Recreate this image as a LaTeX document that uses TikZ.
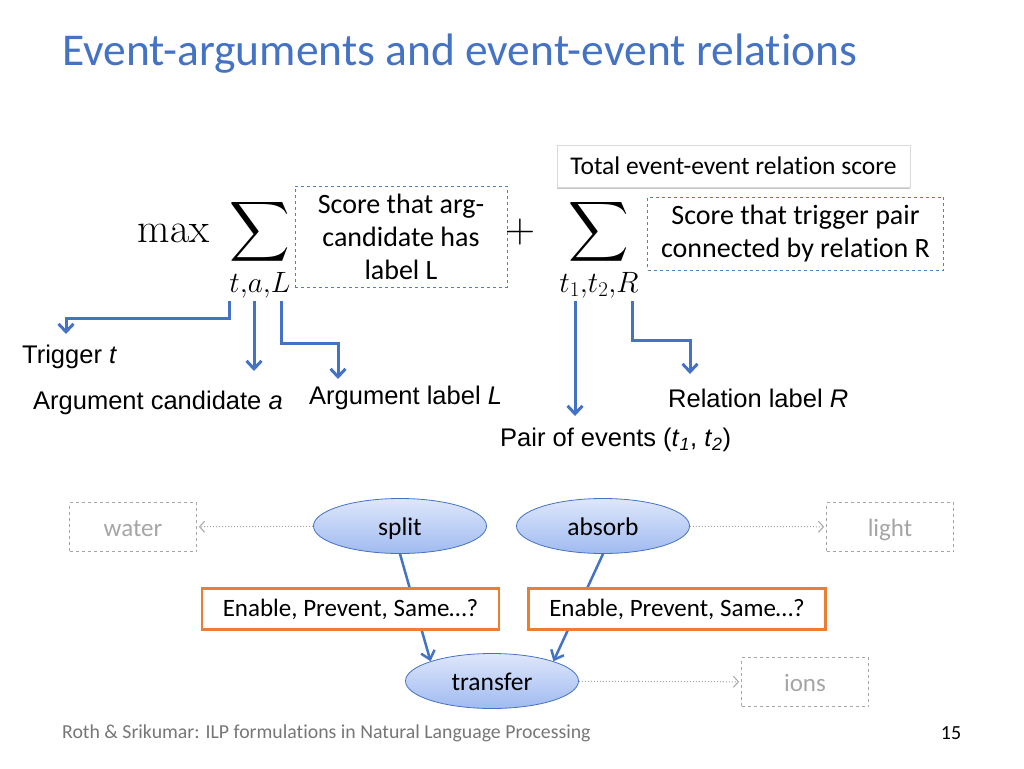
\RequirePackage{fix-cm}
\documentclass[tikz,border=0pt]{standalone}
\DeclareFontShape{OMX}{cmex}{m}{n}{<-> cmex10}{}
\usepackage[no-math]{fontspec}
\setmainfont{Carlito}[Ligatures=NoCommon]
\newfontfamily\arialfont{Liberation Sans}
\usetikzlibrary{arrows.meta,shapes.geometric,shadows}
\definecolor{titleblue}{RGB}{68,114,196}
\definecolor{lineblue}{RGB}{68,114,196}
\definecolor{dashblue}{RGB}{79,129,189}
\definecolor{boxorange}{RGB}{237,125,49}
\definecolor{ovaltop}{RGB}{222,231,251}
\definecolor{ovalbot}{RGB}{160,186,240}
\definecolor{ghost}{RGB}{165,165,165}
\definecolor{footgray}{RGB}{118,118,118}
\begin{document}
\begin{tikzpicture}
	[x=1pt,y=-1pt,
	arr/.style={draw=lineblue,line width=3pt,-{Straight Barb[length=8pt,width=15pt]}},
	note/.style={draw=dashblue,dashed,line width=0.8pt,fill=white,align=center,inner sep=0pt,font=\fontsize{28}{33}\selectfont},
	lbl/.style={anchor=west,inner sep=0pt,font=\arialfont\fontsize{25.5}{30}\selectfont},
	event/.style={ellipse,draw=lineblue,line width=0.8pt,top color=ovaltop,bottom color=ovalbot,minimum width=173pt,minimum height=55pt,inner sep=0pt,
		text height=18pt,text depth=0pt,font=\fontsize{25.5}{30}\selectfont},
	rel/.style={draw=boxorange,line width=2.5pt,fill=white,minimum width=297pt,minimum height=41pt,inner sep=0pt,font=\fontsize{25}{30}\selectfont},
	arg/.style={draw=ghost,dashed,line width=0.8pt,text=ghost,minimum width=127pt,minimum height=49pt,inner sep=0pt,
		text height=18pt,text depth=0pt,font=\fontsize{25}{30}\selectfont},
	link/.style={draw=lineblue,line width=2.5pt,-{Straight Barb[length=8pt,width=14pt]}},
	dots/.style={draw=ghost,dotted,line width=1pt,-{Straight Barb[length=5pt,width=11pt]},shorten >=2pt},
	big/.style={inner sep=0pt,font=\fontsize{42}{50}\selectfont}]
	\useasboundingbox (0,0) rectangle (1024,768);
	% title
	\node[anchor=base west,inner sep=0pt,text=titleblue,font=\fontsize{45.5}{54}\selectfont,name=title] at (62,66) {Event-arguments and event-event relations};
	% objective
	\node[big,anchor=base west,name=mx] at (137,242) {$\max$};
	\node[big,anchor=base,text height=42pt,name=argsum] at (260,242) {$\displaystyle\sum_{t,a,L}$};
	\node[big,anchor=base,name=plus] at (520,242) {$+$};
	\node[big,anchor=base,text height=42pt,name=relsum] at (599,242) {$\displaystyle\sum_{t_1,t_2,R}$};
	\node[note,minimum width=212pt,minimum height=101pt,name=argscore] at (401,236.5) {Score that arg-\\candidate has\\label L};
	\node[note,minimum width=296pt,minimum height=73pt,name=relscore] at (795.5,233.5) {Score that trigger pair\\connected by relation R};
	\node[draw=black!15,fill=white,line width=0.5pt,minimum width=353pt,minimum height=42pt,inner sep=0pt,font=\fontsize{25.5}{30}\selectfont,
		drop shadow={shadow xshift=0pt,shadow yshift=-1.5pt,opacity=0.45},name=total] at (733.5,166) {Total event-event relation score};
	% what the indices are
	\coordinate (tt) at (229,301);
	\coordinate (aa) at (254,301);
	\coordinate (ll) at (281,301);
	\coordinate (t1) at (575,301);
	\coordinate (rr) at (632,301);
	\coordinate (ttip) at (66,334);
	\coordinate (atip) at (254,371);
	\coordinate (ltip) at (338,379);
	\coordinate (t1tip) at (575,416);
	\coordinate (rtip) at (690,374);
	\draw[arr] (tt) -- ++(0,17) -| (ttip);
	\draw[arr] (aa) -- (atip);
	\draw[arr] (ll) -- ++(0,42) -| (ltip);
	\draw[arr] (t1) -- (t1tip);
	\draw[arr] (rr) -- ++(0,39) -| (rtip);
	\node[lbl,name=trig] at (22,357) {Trigger \textit{t}};
	\node[lbl,name=cand] at (33,403) {Argument candidate \textit{a}};
	\node[lbl,name=arglab] at (309,398) {Argument label \textit{L}};
	\node[lbl,name=rellab] at (668,398) {Relation label \textit{R}};
	\node[lbl,name=pair] at (500,440) {Pair of events (\textit{t}\textsubscript{\textit{1}}, \textit{t}\textsubscript{\textit{2}})};
	% example
	\node[event,name=split] at (400,526) {split};
	\node[event,name=absorb] at (603,526) {absorb};
	\node[event,name=transfer] at (492,681) {transfer};
	\node[arg,name=water] at (133,527) {water};
	\node[arg,name=light] at (890,527) {light};
	\node[arg,name=ions] at (805,682) {ions};
	\draw[link] (split.south) -- (transfer.north west);
	\draw[link] (absorb.south) -- (transfer.north east);
	\node[rel,name=rel1] at (350.5,609) {Enable, Prevent, Same…?};
	\node[rel,name=rel2] at (677,609) {Enable, Prevent, Same…?};
	\draw[dots] (split) -- (water);
	\draw[dots] (absorb) -- (light);
	\draw[dots] (transfer) -- (ions);
	% footer
	\node[anchor=west,inner sep=0pt,text=footgray,font=\fontsize{19.8}{24}\selectfont,name=foot] at (62,733) {Roth \& Srikumar: ILP formulations in Natural Language Processing};
	\node[inner sep=0pt,font=\fontsize{20}{24}\selectfont,name=page] at (951,733) {15};
\end{tikzpicture}
\end{document}
